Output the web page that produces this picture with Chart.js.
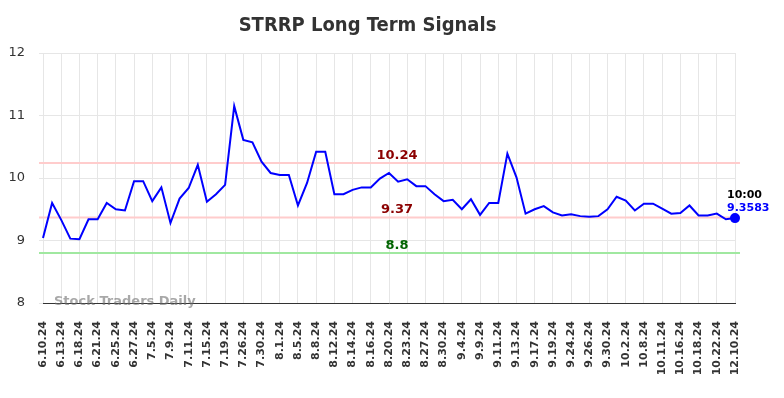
<!DOCTYPE html>
<html>
<head>
<meta charset="utf-8">
<script src="https://cdn.jsdelivr.net/npm/chart.js@4/dist/chart.umd.min.js"></script>
<style>
  html, body { margin: 0; padding: 0; background: #fff; }
  #wrap { width: 784px; height: 398px; }
</style>
</head>
<body>
<div id="wrap"><canvas id="chart" width="784" height="398"></canvas></div>
<script>
// dates shown on the axis; in-between sessions are not labelled in the picture
const dates = [
  '6.10.24', '', '6.13.24', '', '6.18.24', '', '6.21.24', '', '6.25.24', '', '6.27.24', '',
  '7.5.24', '', '7.9.24', '', '7.11.24', '', '7.15.24', '', '7.19.24', '', '7.26.24', '',
  '7.30.24', '', '8.1.24', '', '8.5.24', '', '8.8.24', '', '8.12.24', '', '8.14.24', '',
  '8.16.24', '', '8.20.24', '', '8.23.24', '', '8.27.24', '', '8.30.24', '', '9.4.24', '',
  '9.9.24', '', '9.11.24', '', '9.13.24', '', '9.17.24', '', '9.19.24', '', '9.24.24', '',
  '9.26.24', '', '9.30.24', '', '10.2.24', '', '10.8.24', '', '10.11.24', '', '10.16.24', '',
  '10.18.24', '', '10.22.24', '', '12.10.24'
];
const prices = [
  9.04, 9.60, 9.33, 9.03, 9.02, 9.34, 9.34, 9.60, 9.50, 9.48, 9.95, 9.95,
  9.63, 9.85, 9.28, 9.67, 9.84, 10.21, 9.62, 9.74, 9.89, 11.15, 10.61, 10.57,
  10.26, 10.08, 10.05, 10.05, 9.56, 9.92, 10.42, 10.42, 9.74, 9.74, 9.81, 9.85,
  9.85, 9.99, 10.08, 9.94, 9.98, 9.87, 9.87, 9.74, 9.63, 9.65, 9.50, 9.66,
  9.41, 9.60, 9.60, 10.39, 10.01, 9.43, 9.50, 9.55, 9.45, 9.40, 9.42, 9.39,
  9.38, 9.39, 9.50, 9.70, 9.64, 9.48, 9.59, 9.59, 9.51, 9.43, 9.44, 9.56,
  9.40, 9.40, 9.43, 9.34, 9.3583
];
const signalLevels = [10.24, 9.37, 8.8];
const signalLabels = ['10.24', '9.37', '8.8'];
const signalLineColors = ['#ffcccc', '#ffcccc', '#a0e8a0'];
const signalTextColors = ['#8b0000', '#8b0000', '#006400'];
const lastTime = '10:00';
const lastValue = '9.3583';
const yTicks = [8, 9, 10, 11, 12];

const FONT = "'DejaVu Sans', sans-serif";

const overlay = {
  id: 'overlay',
  beforeDatasetsDraw(chart) {
    const { ctx, chartArea: a, scales: { y } } = chart;
    ctx.save();
    signalLevels.forEach((lvl, i) => {
      const py = y.getPixelForValue(lvl);
      ctx.strokeStyle = signalLineColors[i];
      ctx.lineWidth = 2;
      ctx.beginPath();
      ctx.moveTo(a.left - 4, py);
      ctx.lineTo(a.right + 5, py);
      ctx.stroke();
    });
    // watermark
    ctx.font = 'bold 13px ' + FONT;
    ctx.fillStyle = 'rgba(110,110,110,0.6)';
    ctx.textAlign = 'left';
    ctx.textBaseline = 'middle';
    ctx.fillText('Stock Traders Daily', a.left + 11, a.bottom - 1);
    ctx.restore();
  },
  afterDatasetsDraw(chart) {
    const { ctx, chartArea: a, scales: { x, y } } = chart;
    ctx.save();
    ctx.font = 'bold 13px ' + FONT;
    ctx.textAlign = 'center';
    ctx.textBaseline = 'bottom';
    const cx = (a.left + a.right) / 2 + 8;
    signalLevels.forEach((lvl, i) => {
      ctx.fillStyle = signalTextColors[i];
      ctx.fillText(signalLabels[i], cx, y.getPixelForValue(lvl) - 1);
    });
    const n = prices.length - 1;
    const px = x.getPixelForValue(n);
    const py = y.getPixelForValue(prices[n]);
    ctx.font = 'bold 11px ' + FONT;
    ctx.textAlign = 'left';
    ctx.fillStyle = '#000';
    ctx.fillText(lastTime, px - 8, py - 17);
    ctx.fillStyle = '#0000ff';
    ctx.fillText(lastValue, px - 8, py - 4);
    ctx.restore();
  }
};

new Chart(document.getElementById('chart'), {
  type: 'line',
  data: {
    labels: dates,
    datasets: [{
      data: prices,
      borderColor: '#0000ff',
      backgroundColor: '#0000ff',
      borderWidth: 2,
      tension: 0,
      pointRadius: prices.map((v, i) => i === prices.length - 1 ? 4 : 0),
      pointHoverRadius: 4
    }]
  },
  options: {
    responsive: false,
    animation: false,
    layout: { padding: { right: 49 } },
    plugins: {
      legend: { display: false },
      tooltip: { enabled: false },
      title: {
        display: true,
        text: 'STRRP Long Term Signals',
        color: '#333333',
        font: { family: "'DejaVu Sans Condensed', 'DejaVu Sans', sans-serif", size: 20, weight: 'bold' },
        padding: { top: 14, bottom: 15 }
      }
    },
    scales: {
      x: {
        afterFit(s) { s.height = 95; },
        grid: { color: '#e6e6e6', drawTicks: false },
        border: { color: '#333333', width: 1 },
        ticks: {
          autoSkip: false,
          minRotation: 90,
          maxRotation: 90,
          padding: 18,
          color: '#333333',
          font: { family: FONT, size: 11, weight: 'bold' },
          callback(v, i) { return dates[i] === '' ? null : dates[i]; }
        }
      },
      y: {
        min: 8,
        max: 12,
        afterFit(s) { s.width = 43; },
        afterBuildTicks(s) { s.ticks = yTicks.map(v => ({ value: v })); },
        grid: { color: '#e6e6e6', tickLength: 4 },
        border: { display: false },
        ticks: {
          padding: 14,
          color: '#333333',
          font: { family: FONT, size: 13 }
        }
      }
    }
  },
  plugins: [overlay]
});
</script>
</body>
</html>
